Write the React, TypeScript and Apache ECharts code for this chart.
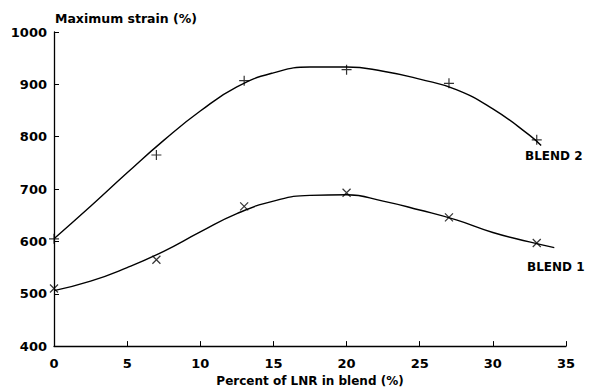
import React, { useEffect, useRef } from "react";
import * as echarts from "echarts";

const xTicks = [0, 5, 10, 15, 20, 25, 30, 35];
const blend2Points: [number, number][] = [
  [0, 605], [7, 765], [13, 907], [20, 928], [27, 902], [33, 794],
];
const blend1Points: [number, number][] = [
  [0, 510], [7, 565], [13, 667], [20, 693], [27, 646], [33, 597],
];
const blend2Curve: [number, number][] = [
  [0, 605], [2.5, 667], [5, 731], [7.5, 793], [10, 849], [12.5, 895], [15, 922],
  [17.5, 933], [20, 933], [22.5, 925], [25, 910], [27.5, 890], [30, 853], [32.5, 803], [33.3, 783],
];
const blend1Curve: [number, number][] = [
  [0, 506], [2.5, 524], [5, 550], [7.5, 581], [10, 618], [12.5, 653], [15, 677],
  [17.5, 688], [20, 689], [22.5, 677], [25, 660], [27.5, 641], [30, 617], [32.5, 599], [34.2, 588],
];
const seriesLabels = ["BLEND 2", "BLEND 1"];
const yTitle = "Maximum strain (%)";
const xTitle = "Percent of LNR in blend (%)";

const FONT = "DejaVu Sans";

export default function App() {
  const ref = useRef<HTMLDivElement>(null);
  useEffect(() => {
    if (!ref.current) return;
    const chart = echarts.init(ref.current, null, { renderer: "svg" });
    const plus = "path://M0,5L10,5M5,0L5,10";
    const cross = "path://M0,0L10,10M10,0L0,10";
    const txt = { fontFamily: FONT, fontWeight: "bold", color: "#000" };
    chart.setOption({
      animation: false,
      backgroundColor: "#fff",
      grid: { left: 54, right: 29, top: 32, bottom: 43 },
      xAxis: {
        type: "value",
        min: 0,
        max: 35,
        interval: 5,
        name: xTitle,
        nameLocation: "middle",
        nameGap: 27,
        nameTextStyle: { ...txt, fontSize: 12 },
        axisLine: { lineStyle: { color: "#000", width: 1.3 } },
        axisTick: { inside: true, length: 5, lineStyle: { color: "#000" } },
        axisLabel: {
          ...txt, fontSize: 13, margin: 11,
          formatter: (v: number) => (xTicks.includes(v) ? String(v) : ""),
        },
        splitLine: { show: false },
      },
      yAxis: {
        type: "value",
        min: 400,
        max: 1000,
        interval: 100,
        axisLine: { show: true, lineStyle: { color: "#000", width: 1.3 } },
        axisTick: { show: true, inside: true, length: 5, lineStyle: { color: "#000" } },
        axisLabel: { ...txt, fontSize: 13, margin: 7, formatter: (v: number) => String(v) },
        splitLine: { show: false },
      },
      graphic: [
        {
          type: "text", left: 55, top: 12,
          style: { text: yTitle, fontFamily: FONT, fontWeight: "bold", fontSize: 12.5, fill: "#000" },
        },
        {
          type: "text", left: 525, top: 150,
          style: { text: seriesLabels[0], fontFamily: FONT, fontWeight: "bold", fontSize: 12, fill: "#000" },
        },
        {
          type: "text", left: 527, top: 261,
          style: { text: seriesLabels[1], fontFamily: FONT, fontWeight: "bold", fontSize: 12, fill: "#000" },
        },
      ],
      series: [
        {
          type: "line", data: blend2Curve, smooth: 0.5, symbol: "none",
          lineStyle: { color: "#000", width: 1.4 },
        },
        {
          type: "line", data: blend1Curve, smooth: 0.5, symbol: "none",
          lineStyle: { color: "#000", width: 1.4 },
        },
        {
          type: "scatter", data: blend2Points, symbol: plus, symbolSize: 10,
          itemStyle: { color: "none", borderColor: "#000", borderWidth: 1.2 },
        },
        {
          type: "scatter", data: blend1Points, symbol: cross, symbolSize: 8,
          itemStyle: { color: "none", borderColor: "#000", borderWidth: 1.2 },
        },
      ],
    });
    return () => chart.dispose();
  }, []);
  return <div ref={ref} style={{ width: 595, height: 392, position: "absolute", left: 0, top: 0 }} />;
}
